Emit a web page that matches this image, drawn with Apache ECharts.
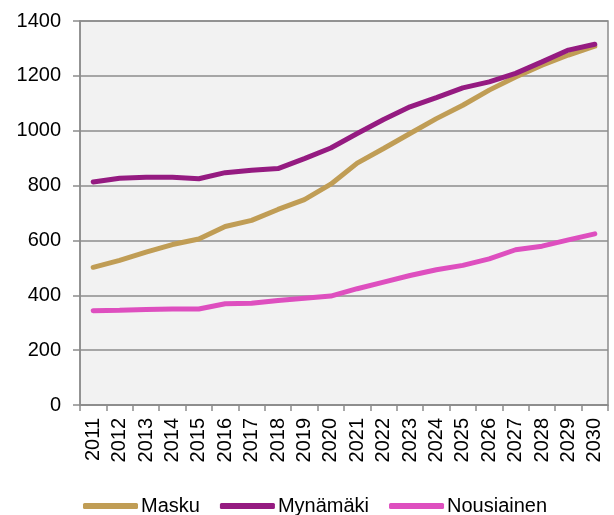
<!DOCTYPE html>
<html><head><meta charset="utf-8">
<script src="https://cdn.jsdelivr.net/npm/echarts@6/dist/echarts.min.js"></script>
<style>html,body{margin:0;padding:0;background:#fff}#c{width:614px;height:515px}</style>
</head><body><div id="c"></div>
<script>
const years = ['2011','2012','2013','2014','2015','2016','2017','2018','2019','2020','2021','2022','2023','2024','2025','2026','2027','2028','2029','2030'];
const masku = [502,527,557,585,605,651,673,713,749,805,882,935,990,1044,1093,1148,1196,1239,1276,1308];
const mynamaki = [813,827,830,830,825,847,856,862,898,937,990,1041,1087,1121,1156,1178,1209,1251,1294,1315];
const nousiainen = [344,345,348,350,350,369,371,381,389,397,424,448,472,493,509,533,566,579,602,624];
const yTicks = {min:0, max:1400, interval:200};

const chart = echarts.init(document.getElementById('c'));
const font = 'Liberation Sans, Arial, sans-serif';
chart.setOption({
  animation:false,
  textStyle:{fontFamily:font},
  grid:{left:80, right:6, top:21, bottom:110, show:true, backgroundColor:'#F2F2F2', borderColor:'#8c8c8c', borderWidth:1.5},
  legend:{top:491, left:78, itemGap:20, itemWidth:55, itemHeight:6, icon:'roundRect',
    textStyle:{fontSize:20, color:'#000', fontFamily:font, padding:[0,0,0,-2]},
    data:['Masku','Mynämäki','Nousiainen']},
  xAxis:{type:'category', data:years, boundaryGap:true,
    axisLine:{lineStyle:{color:'#8c8c8c', width:1.5}},
    axisTick:{show:true, length:6, lineStyle:{color:'#8c8c8c', width:1.5}},
    axisLabel:{rotate:90, fontSize:20, color:'#000', margin:13, interval:0}},
  yAxis:{type:'value', min:yTicks.min, max:yTicks.max, interval:yTicks.interval,
    axisLine:{show:true, lineStyle:{color:'#8c8c8c', width:1.5}},
    axisTick:{show:true, length:7, lineStyle:{color:'#8c8c8c', width:1.5}},
    splitLine:{lineStyle:{color:'#8c8c8c', width:1.5}},
    axisLabel:{fontSize:20, color:'#000', margin:19, formatter:function(v){return String(v);}}},
  series:[
    {name:'Masku', type:'line', data:masku, showSymbol:false, symbol:'none', lineStyle:{width:5, color:'#C09D55', cap:'round'}, itemStyle:{color:'#C09D55'}},
    {name:'Mynämäki', type:'line', data:mynamaki, showSymbol:false, symbol:'none', lineStyle:{width:5, color:'#951B81', cap:'round'}, itemStyle:{color:'#951B81'}},
    {name:'Nousiainen', type:'line', data:nousiainen, showSymbol:false, symbol:'none', lineStyle:{width:5, color:'#DE4FBF', cap:'round'}, itemStyle:{color:'#DE4FBF'}}
  ]
});
</script></body></html>
